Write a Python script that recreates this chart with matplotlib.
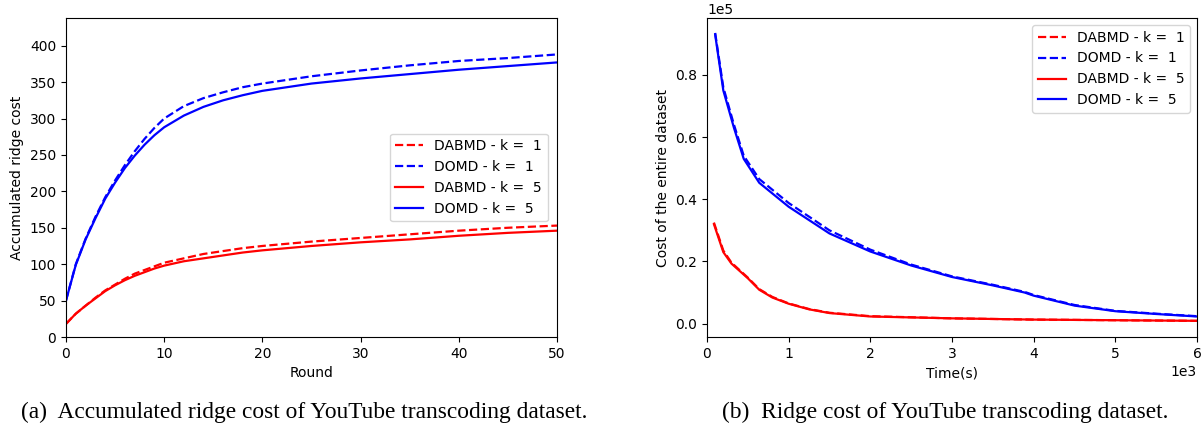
## Accumulated ridge cost and ridge cost over time, YouTube transcoding dataset.

import matplotlib
matplotlib.use('Agg')
import matplotlib.pyplot as plt
from matplotlib.ticker import ScalarFormatter

plt.rcParams['font.family'] = ['DejaVu Sans']
plt.rcParams['font.size'] = 10


class FixedOrder(ScalarFormatter):
    ## scalar formatter with a fixed power of ten for the offset text
    def __init__(self, order):
        self.order = order
        ScalarFormatter.__init__(self, useOffset=False, useMathText=False)

    def _set_order_of_magnitude(self):
        self.orderOfMagnitude = self.order

    def _set_format(self):
        self.format = '%1.1f'


class FixedOrderInt(FixedOrder):
    def _set_format(self):
        self.format = '%d'


## (a) accumulated ridge cost per round
rounds = [0, 1, 2, 3, 4, 5, 6, 7, 8, 9, 10, 12, 14, 16, 18, 20, 25, 30, 35, 40, 45, 50]
dabmd_k1_acc = [18, 32, 43, 54, 64, 72, 80, 87, 92, 97, 102, 108, 114, 118, 122, 125, 131, 136, 141, 146, 150, 153]
domd_k1_acc = [50, 100, 135, 165, 192, 215, 236, 255, 272, 287, 300, 317, 328, 336, 343, 348, 358, 366, 373, 379, 383, 388]
dabmd_k5_acc = [18, 32, 43, 53, 63, 71, 78, 84, 89, 94, 98, 104, 108, 112, 116, 119, 125, 130, 134, 139, 143, 146]
domd_k5_acc = [50, 99, 134, 163, 190, 212, 232, 249, 264, 277, 288, 304, 316, 325, 332, 338, 348, 355, 361, 367, 372, 377]

## (b) ridge cost of the entire dataset over time
time_blue = [100, 200, 330, 450, 640, 1000, 1500, 2000, 2500, 3000, 3500, 3890, 4000, 4500, 5000, 5500, 6000]
domd_k1_cost = [93500, 76000, 64000, 54000, 46500, 38800, 30000, 23800, 19000, 15200, 12500, 10200, 9200, 6000, 4100, 3200, 2400]
domd_k5_cost = [93000, 75000, 63000, 53000, 45300, 37600, 29000, 23200, 18700, 15000, 12300, 10000, 9000, 5800, 4000, 3100, 2300]
time_red = [85, 200, 300, 500, 640, 800, 1000, 1250, 1500, 2000, 3000, 4000, 5000, 6000]
dabmd_k1_cost = [32500, 23500, 19600, 14800, 11100, 8600, 6500, 4700, 3500, 2400, 1700, 1300, 1100, 900]
dabmd_k5_cost = [32000, 23000, 19300, 14600, 10900, 8400, 6400, 4600, 3400, 2300, 1700, 1300, 1100, 900]

labels = ['DABMD - k =  1', 'DOMD - k =  1', 'DABMD - k =  5', 'DOMD - k =  5']

fig = plt.figure(figsize=(12.04, 4.32), dpi=100)

ax1 = fig.add_axes([0.0548, 0.2199, 0.4078, 0.7384])
ax1.plot(rounds, dabmd_k1_acc, 'r--', linewidth=1.6, label=labels[0])
ax1.plot(rounds, domd_k1_acc, 'b--', linewidth=1.6, label=labels[1])
ax1.plot(rounds, dabmd_k5_acc, 'r-', linewidth=1.6, label=labels[2])
ax1.plot(rounds, domd_k5_acc, 'b-', linewidth=1.6, label=labels[3])
ax1.set_xlim(0, 50)
ax1.set_ylim(0, 438)
ax1.set_yticks(range(0, 401, 50))
ax1.set_xlabel('Round')
ax1.set_ylabel('Accumulated ridge cost')
ax1.legend(loc='center right', bbox_to_anchor=(0.995, 0.5))

ax2 = fig.add_axes([0.5872, 0.2199, 0.407, 0.7384])
ax2.plot(time_red, dabmd_k1_cost, 'r--', linewidth=1.6, label=labels[0])
ax2.plot(time_blue, domd_k1_cost, 'b--', linewidth=1.6, label=labels[1])
ax2.plot(time_red, dabmd_k5_cost, 'r-', linewidth=1.6, label=labels[2])
ax2.plot(time_blue, domd_k5_cost, 'b-', linewidth=1.6, label=labels[3])
ax2.set_xlim(0, 6000)
ax2.set_ylim(-4300, 98300)
ax2.set_yticks([0, 20000, 40000, 60000, 80000])
ax2.yaxis.set_major_formatter(FixedOrder(5))
ax2.xaxis.set_major_formatter(FixedOrderInt(3))
ax2.set_xlabel('Time(s)')
ax2.set_ylabel('Cost of the entire dataset')
ax2.legend(loc='upper right')

cap_font = ['Liberation Serif', 'DejaVu Serif']
fig.text(0.253, 0.045, '(a)  Accumulated ridge cost of YouTube transcoding dataset.',
         ha='center', va='center', fontsize=16.8, family=cap_font)
fig.text(0.785, 0.045, '(b)  Ridge cost of YouTube transcoding dataset.',
         ha='center', va='center', fontsize=16.8, family=cap_font)

plt.savefig('out.png', dpi=100)
